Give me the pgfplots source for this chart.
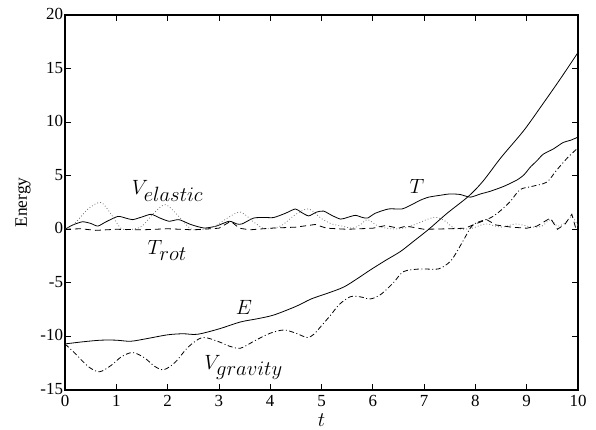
\documentclass[border=0pt]{standalone}
\usepackage{fontspec}
\setmainfont{Liberation Serif}
\usepackage{pgfplots}
\pgfplotsset{compat=1.18}

\begin{document}
\begin{tikzpicture}
\begin{axis}[
    name=ax,
    scale only axis,
    width=513bp, height=375bp,
    xmin=0, xmax=10, ymin=-15, ymax=20,
    xtick={0,1,...,10},
    ytick={-15,-10,...,20},
    tick align=inside,
    major tick length=6bp,
    axis line style={line width=1.1bp},
    every tick/.style={black, line width=0.8bp},
    tick label style={font=\fontsize{17}{17}\selectfont},
    xticklabel style={yshift=-1.5bp},
    yticklabel style={xshift=1.5bp, yshift=1bp},
    /pgf/number format/assume math mode=true,
    xlabel={$t$},
    ylabel={Energy},
    label style={font=\fontsize{17.5}{17.5}\selectfont},
    xlabel style={font=\fontsize{20}{20}\selectfont, yshift=0bp},
    ylabel style={yshift=3bp},
    no markers,
]
% T
\addplot[black, solid, line width=0.8bp, smooth, tension=0.4] coordinates {
(0,0) (0.15,0.4) (0.34,0.7) (0.5,0.55) (0.64,0.3) (0.8,0.7) (1.03,1.2) (1.18,1.05)
(1.32,0.9) (1.5,1.15) (1.68,1.4) (1.85,1.05) (2.03,0.75) (2.22,0.9) (2.45,0.45)
(2.71,0.12) (2.95,0.3) (3.2,0.75) (3.35,0.5) (3.45,0.5) (3.68,1.05) (3.9,1.1)
(4.07,1.1) (4.3,1.5) (4.49,1.9) (4.6,1.6) (4.75,1.25) (4.9,1.6) (5.04,1.7)
(5.2,1.3) (5.37,0.95) (5.5,1.1) (5.66,1.3) (5.8,1.1) (5.9,1.05) (6.05,1.5)
(6.31,1.9) (6.57,1.9) (6.76,2.3) (6.92,2.7) (7.09,3.0) (7.35,3.2) (7.5,3.3)
(7.7,3.25) (7.9,3.0) (8.1,3.3) (8.29,3.55) (8.55,4.0) (8.81,4.6) (8.95,5.1)
(9.07,5.8) (9.2,6.4) (9.32,7.0) (9.52,7.5) (9.71,8.1) (9.85,8.3) (10,8.6)
};
% E
\addplot[black, solid, line width=0.8bp, smooth, tension=0.5] coordinates {
(0,-10.7) (0.35,-10.5) (0.7,-10.35) (1.0,-10.35) (1.28,-10.45) (1.6,-10.2)
(2.0,-9.85) (2.3,-9.75) (2.58,-9.8) (3.0,-9.3) (3.42,-8.65) (3.75,-8.35)
(4.07,-8.0) (4.5,-7.2) (4.8,-6.5) (5.1,-6.0) (5.43,-5.4) (5.7,-4.6) (5.95,-3.8)
(6.25,-2.9) (6.54,-2.07) (6.8,-1.1) (7.09,0) (7.45,1.5) (7.87,3.1) (8.15,4.5)
(8.5,6.7) (8.94,9.2) (9.3,11.6) (9.65,14.0) (10,16.5)
};
% V_gravity
\addplot[black, line width=0.8bp, smooth, tension=0.5, dash pattern=on 5bp off 2.5bp on 1bp off 2.5bp] coordinates {
(0,-10.7) (0.2,-11.6) (0.45,-12.8) (0.67,-13.3) (0.9,-12.7) (1.1,-11.9)
(1.32,-11.5) (1.55,-12.0) (1.75,-12.8) (1.93,-13.1) (2.15,-12.4) (2.4,-11.0)
(2.68,-10.1) (3.0,-10.5) (3.2,-10.9) (3.42,-11.1) (3.7,-10.4) (4.0,-9.7)
(4.27,-9.4) (4.5,-9.7) (4.72,-10.1) (4.85,-9.8) (5.0,-9.0) (5.18,-8.0)
(5.35,-7.0) (5.56,-6.3) (5.75,-6.3) (5.95,-6.5) (6.15,-6.1) (6.4,-5.0)
(6.6,-3.95) (6.93,-3.7) (7.28,-3.7) (7.51,-3.0) (7.65,-2.0) (7.77,-1.0)
(7.96,0.44) (8.29,1.06) (8.48,1.7) (8.68,2.6) (8.87,3.7) (9.1,4.0) (9.39,4.4)
(9.58,5.5) (9.8,6.7) (10,7.6)
};
% V_elastic
\addplot[black!55, line width=0.8bp, smooth, tension=0.5, dash pattern=on 0.8bp off 2.2bp] coordinates {
(0,0) (0.2,0.6) (0.45,1.9) (0.7,2.5) (0.9,1.4) (1.09,0.1) (1.3,0.0) (1.5,0.3)
(1.75,1.6) (1.96,2.3) (2.2,1.3) (2.45,0.05) (2.7,0.0) (2.9,0.2) (3.15,1.0)
(3.42,1.6) (3.7,0.6) (3.9,0.05) (4.2,0.3) (4.5,1.4) (4.75,1.9) (5.0,1.0)
(5.2,0.5) (5.4,0.3) (5.6,0.1) (5.75,0.4) (5.9,0.9) (6.1,0.3) (6.35,0.05)
(6.6,0.1) (6.85,0.5) (7.1,1.0) (7.25,1.1) (7.4,0.8) (7.6,0.1) (7.9,0.05)
(8.2,0.5) (8.5,0.2) (8.8,0.5) (9.1,0.2) (9.3,0.3) (9.46,0.9) (9.6,0.3)
(9.75,0.6) (9.88,1.2) (10,0.3)
};
% T_rot
\addplot[black, line width=0.8bp, dash pattern=on 6bp off 4bp] coordinates {
(0,0) (0.3,0.05) (0.6,-0.1) (1.0,0.0) (1.5,-0.05) (2.0,0.05) (2.5,-0.05)
(3.0,0.1) (3.23,0.75) (3.4,0.1) (3.6,-0.05) (4.0,0.1) (4.5,0.2) (4.88,0.45)
(5.1,0.1) (5.5,0.0) (6.0,0.1) (6.25,0.35) (6.5,0.1) (6.65,0.3) (7.0,0.0)
(7.5,0.05) (7.8,0.1) (8.0,0.5) (8.22,0.9) (8.4,0.4) (8.7,0.2) (9.0,0.1)
(9.2,0.3) (9.46,1.05) (9.6,0.0) (9.75,0.5) (9.88,1.4) (9.95,0.2) (10,0.0)
};
\node[font=\fontsize{20}{20}\selectfont] at (axis cs:2.0,3.6) {$V_{\textstyle elastic}$};
\node[font=\fontsize{20}{20}\selectfont] at (axis cs:6.86,4.0) {$T$};
\node[font=\fontsize{20}{20}\selectfont] at (axis cs:1.99,-2.0) {$T_{\textstyle rot}$};
\node[font=\fontsize{20}{20}\selectfont] at (axis cs:3.49,-7.3) {$E$};
\node[font=\fontsize{20}{20}\selectfont] at (axis cs:3.48,-12.9) {$V_{\textstyle gravity}$};
\end{axis}
\useasboundingbox ([xshift=-65bp,yshift=-34bp]ax.south west) rectangle ([xshift=18bp,yshift=15bp]ax.north east);
\end{tikzpicture}
\end{document}
